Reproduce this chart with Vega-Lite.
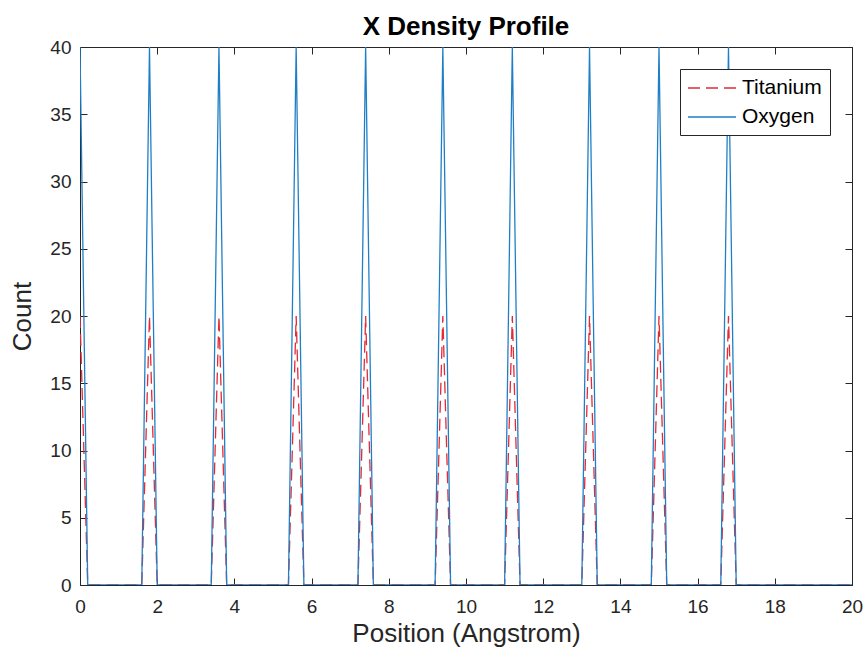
{
  "$schema": "https://vega.github.io/schema/vega-lite/v6.json",
  "autosize": "none",
  "width": 772,
  "height": 538,
  "padding": {"left": 80, "top": 47, "right": 16, "bottom": 76},
  "background": "white",
  "title": {
    "text": "X Density Profile",
    "font": "Liberation Sans",
    "fontSize": 26,
    "fontWeight": "bold",
    "color": "#000000",
    "anchor": "middle",
    "offset": -2
  },
  "config": {
    "view": {"stroke": "#262626", "strokeWidth": 1},
    "axis": {
      "domain": false,
      "grid": false,
      "tickColor": "#262626",
      "tickSize": -7,
      "tickWidth": 1,
      "labelFont": "Liberation Sans",
      "labelFontSize": 19,
      "labelColor": "#262626",
      "labelFlush": false,
      "titleFont": "Liberation Sans",
      "titleFontSize": 26,
      "titleFontWeight": "normal",
      "titleColor": "#262626"
    },
    "legend": {
      "orient": "top-right",
      "offset": 22,
      "strokeColor": "#262626",
      "fillColor": "white",
      "padding": 8,
      "labelFont": "Liberation Sans",
      "labelFontSize": 21,
      "labelColor": "#000000",
      "symbolType": "M-2.4,0H2.4",
      "symbolSize": 400,
      "symbolOffset": 13,
      "labelOffset": 19,
      "symbolStrokeWidth": 1.3,
      "rowPadding": 8
    }
  },
  "data": {
    "values": [
      {"series": "Titanium", "x": 0.0, "count": 20},
      {"series": "Titanium", "x": 0.2, "count": 0},
      {"series": "Titanium", "x": 1.6, "count": 0},
      {"series": "Titanium", "x": 1.8, "count": 20},
      {"series": "Titanium", "x": 2.0, "count": 0},
      {"series": "Titanium", "x": 3.4, "count": 0},
      {"series": "Titanium", "x": 3.6, "count": 20},
      {"series": "Titanium", "x": 3.8, "count": 0},
      {"series": "Titanium", "x": 5.4, "count": 0},
      {"series": "Titanium", "x": 5.6, "count": 20},
      {"series": "Titanium", "x": 5.8, "count": 0},
      {"series": "Titanium", "x": 7.2, "count": 0},
      {"series": "Titanium", "x": 7.4, "count": 20},
      {"series": "Titanium", "x": 7.6, "count": 0},
      {"series": "Titanium", "x": 9.2, "count": 0},
      {"series": "Titanium", "x": 9.4, "count": 20},
      {"series": "Titanium", "x": 9.6, "count": 0},
      {"series": "Titanium", "x": 11.0, "count": 0},
      {"series": "Titanium", "x": 11.2, "count": 20},
      {"series": "Titanium", "x": 11.4, "count": 0},
      {"series": "Titanium", "x": 13.0, "count": 0},
      {"series": "Titanium", "x": 13.2, "count": 20},
      {"series": "Titanium", "x": 13.4, "count": 0},
      {"series": "Titanium", "x": 14.8, "count": 0},
      {"series": "Titanium", "x": 15.0, "count": 20},
      {"series": "Titanium", "x": 15.2, "count": 0},
      {"series": "Titanium", "x": 16.6, "count": 0},
      {"series": "Titanium", "x": 16.8, "count": 20},
      {"series": "Titanium", "x": 17.0, "count": 0},
      {"series": "Titanium", "x": 20.0, "count": 0},
      {"series": "Oxygen", "x": 0.0, "count": 40},
      {"series": "Oxygen", "x": 0.2, "count": 0},
      {"series": "Oxygen", "x": 1.6, "count": 0},
      {"series": "Oxygen", "x": 1.8, "count": 40},
      {"series": "Oxygen", "x": 2.0, "count": 0},
      {"series": "Oxygen", "x": 3.4, "count": 0},
      {"series": "Oxygen", "x": 3.6, "count": 40},
      {"series": "Oxygen", "x": 3.8, "count": 0},
      {"series": "Oxygen", "x": 5.4, "count": 0},
      {"series": "Oxygen", "x": 5.6, "count": 40},
      {"series": "Oxygen", "x": 5.8, "count": 0},
      {"series": "Oxygen", "x": 7.2, "count": 0},
      {"series": "Oxygen", "x": 7.4, "count": 40},
      {"series": "Oxygen", "x": 7.6, "count": 0},
      {"series": "Oxygen", "x": 9.2, "count": 0},
      {"series": "Oxygen", "x": 9.4, "count": 40},
      {"series": "Oxygen", "x": 9.6, "count": 0},
      {"series": "Oxygen", "x": 11.0, "count": 0},
      {"series": "Oxygen", "x": 11.2, "count": 40},
      {"series": "Oxygen", "x": 11.4, "count": 0},
      {"series": "Oxygen", "x": 13.0, "count": 0},
      {"series": "Oxygen", "x": 13.2, "count": 40},
      {"series": "Oxygen", "x": 13.4, "count": 0},
      {"series": "Oxygen", "x": 14.8, "count": 0},
      {"series": "Oxygen", "x": 15.0, "count": 40},
      {"series": "Oxygen", "x": 15.2, "count": 0},
      {"series": "Oxygen", "x": 16.6, "count": 0},
      {"series": "Oxygen", "x": 16.8, "count": 40},
      {"series": "Oxygen", "x": 17.0, "count": 0},
      {"series": "Oxygen", "x": 20.0, "count": 0}
    ]
  },
  "layer": [
    {
      "transform": [{"filter": "datum.series === 'Titanium'"}],
      "mark": {"type": "line", "strokeWidth": 1.3, "clip": true},
      "encoding": {
        "x": {
          "field": "x", "type": "quantitative",
          "scale": {"domain": [0, 20], "nice": false, "zero": false},
          "axis": {"title": "Position (Angstrom)", "values": [0, 2, 4, 6, 8, 10, 12, 14, 16, 18, 20], "labelPadding": 19, "titlePadding": 4}
        },
        "y": {
          "field": "count", "type": "quantitative",
          "scale": {"domain": [0, 40], "nice": false},
          "axis": {"title": "Count", "values": [0, 5, 10, 15, 20, 25, 30, 35, 40], "labelPadding": 16, "titlePadding": 14}
        },
        "color": {
          "field": "series", "type": "nominal",
          "scale": {"domain": ["Titanium", "Oxygen"], "range": ["#E42A33", "#1F7FC6"]},
          "legend": {"title": null}
        },
        "strokeDash": {
          "field": "series", "type": "nominal",
          "scale": {"domain": ["Titanium", "Oxygen"], "range": [[12, 6], [1, 0]]},
          "legend": {"title": null}
        }
      }
    },
    {
      "transform": [{"filter": "datum.series === 'Oxygen'"}],
      "mark": {"type": "line", "strokeWidth": 1.3, "clip": true},
      "encoding": {
        "x": {
          "field": "x", "type": "quantitative",
          "axis": {"orient": "top", "title": null, "labels": false, "values": [0, 2, 4, 6, 8, 10, 12, 14, 16, 18, 20]}
        },
        "y": {
          "field": "count", "type": "quantitative",
          "axis": {"orient": "right", "title": null, "labels": false, "values": [0, 5, 10, 15, 20, 25, 30, 35, 40]}
        },
        "color": {"field": "series", "type": "nominal", "legend": {"title": null}},
        "strokeDash": {"field": "series", "type": "nominal", "legend": {"title": null}}
      }
    }
  ],
  "resolve": {"axis": {"x": "independent", "y": "independent"}}
}
